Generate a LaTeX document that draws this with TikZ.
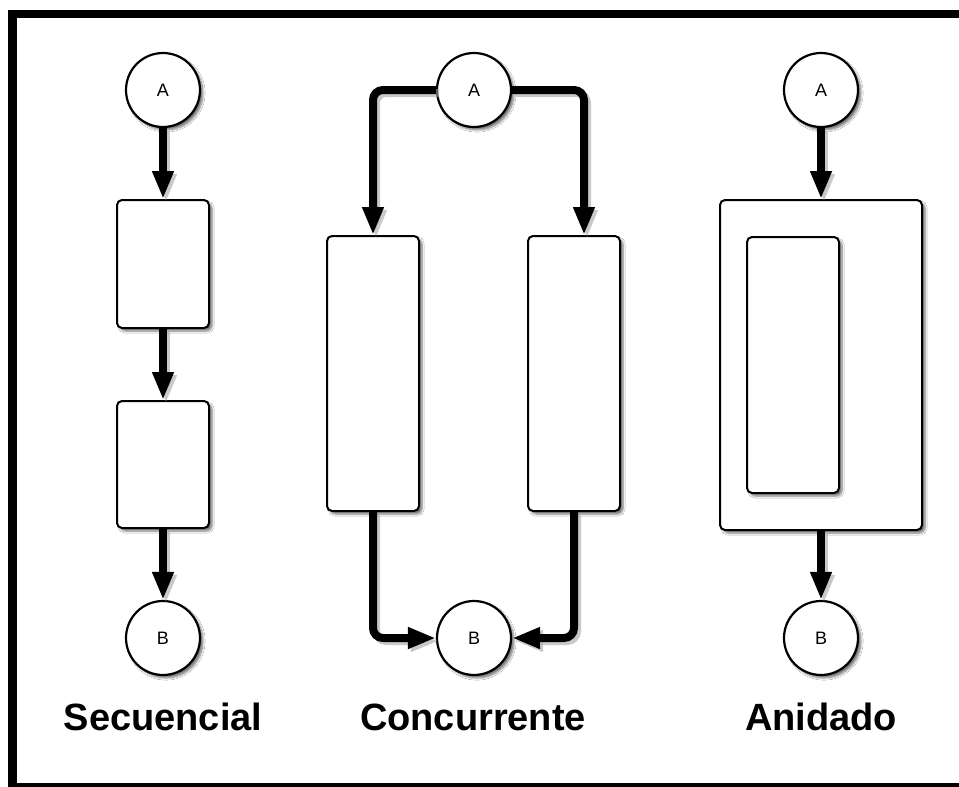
\documentclass[tikz,border=0pt]{standalone}
\usepackage{fontspec}
\setmainfont{Liberation Sans}
\usetikzlibrary{arrows.meta, shadows.blur}
\tikzset{>={Triangle[width=20pt, length=28pt]}}
\tikzset{
  state/.style={circle, draw, line width=2.2pt, fill=white, minimum size=74pt, inner sep=0pt,
    font=\fontsize{18}{18}\selectfont,
    blur shadow={shadow xshift=3pt, shadow yshift=-3pt, shadow blur steps=6, shadow opacity=55}},
  block/.style={rectangle, draw, line width=2pt, fill=white, rounded corners=5pt, inner sep=0pt,
    blur shadow={shadow xshift=3pt, shadow yshift=-3pt, shadow blur steps=6, shadow opacity=55}},
  flow/.style={->, line width=8pt, rounded corners=10pt,
    preaction={draw=black!35, opacity=0.6, line width=8pt, transform canvas={xshift=3pt, yshift=-3pt}}},
  title/.style={anchor=base, font=\fontsize{38}{38}\bfseries\selectfont}
}

\begin{document}
\begin{tikzpicture}[x=1pt, y=-1pt]
\clip (0,0) rectangle (959,787);
\fill[white] (0,0) rectangle (959,787);
\draw[line width=8.5pt] (12.5,14) rectangle (980,787);

\node[state] (sA) at (163,90) {A};
\node[block, minimum width=92pt, minimum height=128pt] (s1) at (163,264) {};
\node[block, minimum width=92pt, minimum height=127pt] (s2) at (163,464.5) {};
\node[state] (sB) at (163,638) {B};

\node[state] (cA) at (474,90) {A};
\node[block, minimum width=92pt, minimum height=275pt] (cl) at (373,373.5) {};
\node[block, minimum width=92pt, minimum height=275pt] (cr) at (574,373.5) {};
\node[state] (cB) at (474,638) {B};

\node[state] (nA) at (821,90) {A};
\node[block, minimum width=202pt, minimum height=330pt] (nout) at (821,365) {};
\node[block, minimum width=92pt, minimum height=256pt] (nin) at (793,365) {};
\node[state] (nB) at (821,638) {B};

\draw[flow] (sA) -- (s1);
\draw[flow] (s1) -- (s2);
\draw[flow] (s2) -- (sB);

\draw[flow] (cA.west) -| (cl.north);
\draw[flow] (cA.east) -| ([xshift=10pt]cr.north);
\draw[flow] (cl.south) |- (cB.west);
\draw[flow] (cr.south) |- (cB.east);

\draw[flow] (nA) -- (nout);
\draw[flow] (nout) -- (nB);

\node[title] (lsec) at (163,730) {Secuencial};
\node[title] (lcon) at (473,730) {Concurrente};
\node[title] (lani) at (821,730) {Anidado};
\end{tikzpicture}
\end{document}
